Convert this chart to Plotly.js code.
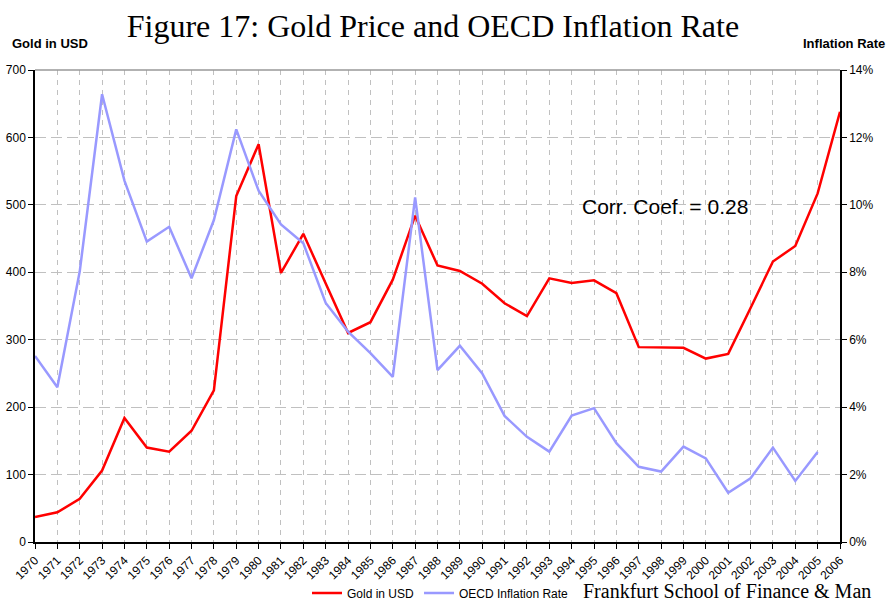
<!DOCTYPE html>
<html>
<head>
<meta charset="utf-8">
<script src="https://cdn.plot.ly/plotly-3.0.1.min.js"></script>
<style>html,body{margin:0;padding:0;background:#fff;}#chart{width:889px;height:603px;}</style>
</head>
<body>
<div id="chart"></div>
<script>
const years = [1970,1971,1972,1973,1974,1975,1976,1977,1978,1979,1980,1981,1982,1983,1984,1985,1986,1987,1988,1989,1990,1991,1992,1993,1994,1995,1996,1997,1998,1999,2000,2001,2002,2003,2004,2005,2006];
const goldUSD = [37,44,64,106,184,140,134,165,225,513,590,399,457,384,310,326,389,484,410,402,383,354,335,391,384,388,369,289,288,288,272,279,347,416,439,517,638];
const inflationYears = [1970,1971,1972,1973,1974,1975,1976,1977,1978,1979,1980,1981,1982,1983,1984,1985,1986,1987,1988,1989,1990,1991,1992,1993,1994,1995,1996,1997,1998,1999,2000,2001,2002,2003,2004,2005];
const inflationRate = [5.52,4.59,8.02,13.28,10.72,8.91,9.35,7.82,9.55,12.24,10.42,9.42,8.86,7.09,6.24,5.6,4.9,10.22,5.1,5.82,5.0,3.74,3.12,2.68,3.75,3.97,2.93,2.23,2.09,2.83,2.48,1.46,1.89,2.8,1.81,2.67];
const leftTicks = [0,100,200,300,400,500,600,700];
const rightTicks = [0,2,4,6,8,10,12,14];

const sans = 'Liberation Sans, Arial, sans-serif';
const serif = 'Liberation Serif, Times New Roman, serif';

const traces = [
  {x: years, y: goldUSD, type: 'scatter', mode: 'lines', name: 'Gold in USD',
   line: {color: '#FF0000', width: 2.5}, yaxis: 'y'},
  {x: inflationYears, y: inflationRate, type: 'scatter', mode: 'lines', name: 'OECD Inflation Rate',
   line: {color: '#9999FF', width: 2.5}, yaxis: 'y2'}
];

const layout = {
  width: 889, height: 603,
  margin: {l: 35, r: 49, t: 70, b: 61},
  paper_bgcolor: '#fff', plot_bgcolor: '#fff',
  font: {family: sans, size: 12, color: '#000'},
  title: {text: 'Figure 17: Gold Price and OECD Inflation Rate',
    font: {family: serif, size: 32, color: '#000'},
    x: 0.487, xanchor: 'center', yref: 'container', y: 1 - 26/603, yanchor: 'middle'},
  showlegend: true,
  legend: {orientation: 'h', xref: 'container', yref: 'container', x: 307/889, xanchor: 'left',
    y: 10/603, yanchor: 'middle',
    font: {family: sans, size: 12, color: '#000'}, itemwidth: 30, tracegroupgap: 0,
    bgcolor: 'rgba(0,0,0,0)'},
  xaxis: {range: [1970, 2006], tickmode: 'array', tickvals: years, ticktext: years.map(String),
    tickangle: -45, ticks: 'outside', ticklen: 5, tickcolor: '#000', automargin: false,
    showgrid: true, gridcolor: '#C0C0C0', griddash: '5px,5px', gridwidth: 1,
    showline: true, linecolor: '#000', linewidth: 1.5, zeroline: false,
    tickfont: {family: sans, size: 12, color: '#000'}},
  yaxis: {range: [0, 700], tickmode: 'array', tickvals: leftTicks, ticks: 'outside', ticklen: 5, tickcolor: '#000',
    automargin: false,
    showgrid: true, gridcolor: '#C0C0C0', griddash: '11px,5px', gridwidth: 1,
    showline: true, linecolor: '#000', linewidth: 1.5, zeroline: false,
    tickfont: {family: sans, size: 12, color: '#000'}},
  yaxis2: {range: [0, 14], overlaying: 'y', side: 'right', tickmode: 'array', tickvals: rightTicks,
    ticktext: rightTicks.map(v => v + '%'), ticks: 'outside', ticklen: 5, tickcolor: '#000', automargin: false,
    showgrid: false, showline: true, linecolor: '#000', linewidth: 1.5, zeroline: false,
    tickfont: {family: sans, size: 12, color: '#000'}},
  shapes: [
    {type: 'line', xref: 'paper', yref: 'paper', x0: 0, x1: 1, y0: 1, y1: 1,
     line: {color: '#999999', width: 1.5}}
  ],
  annotations: [
    {text: '<b>Gold in USD</b>', xref: 'paper', yref: 'paper', x: -25/805, y: (542-44)/472,
     xanchor: 'left', yanchor: 'middle', showarrow: false, font: {family: sans, size: 13, color: '#000'}},
    {text: '<b>Inflation Rate</b>', xref: 'paper', yref: 'paper', x: (887-35)/805, y: (542-44)/472,
     xanchor: 'right', yanchor: 'middle', showarrow: false, font: {family: sans, size: 13, color: '#000'}},
    {text: 'Corr. Coef. = 0.28', xref: 'paper', yref: 'paper', x: (665-35)/805, y: (542-206)/472,
     xanchor: 'center', yanchor: 'middle', showarrow: false, font: {family: sans, size: 21, color: '#000'}},
    {text: 'Frankfurt School of Finance &amp; Man', xref: 'paper', yref: 'paper', x: (581-35)/805, y: (542-591)/472,
     xanchor: 'left', yanchor: 'middle', showarrow: false, font: {family: serif, size: 20, color: '#000'}}
  ]
};

Plotly.newPlot('chart', traces, layout, {displayModeBar: false, responsive: false});
</script>
</body>
</html>
